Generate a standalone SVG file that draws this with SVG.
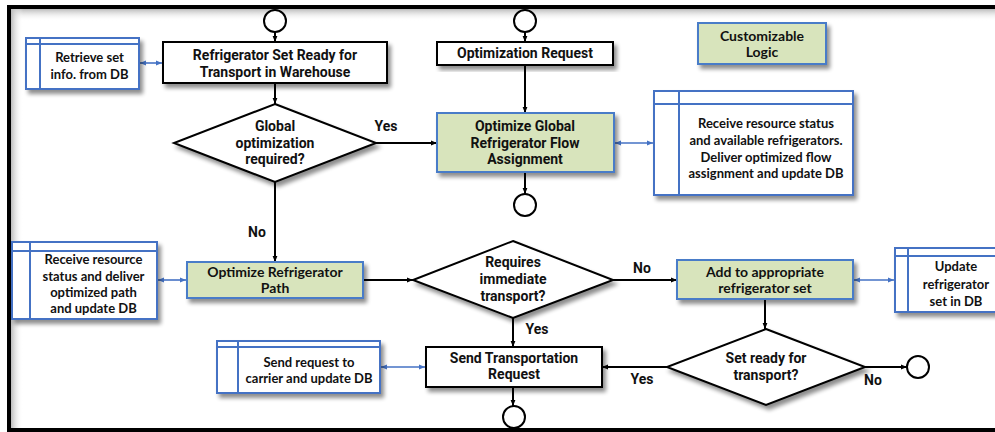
<svg xmlns="http://www.w3.org/2000/svg" width="995" height="432" viewBox="0 0 995 432">
<defs>
<filter id="sh" x="-20%" y="-20%" width="140%" height="150%">
<feGaussianBlur in="SourceAlpha" stdDeviation="2"/>
<feOffset dx="3" dy="4" result="b"/>
<feComponentTransfer><feFuncA type="linear" slope="0.45"/></feComponentTransfer>
<feMerge><feMergeNode/><feMergeNode in="SourceGraphic"/></feMerge>
</filter>
<marker id="ah" viewBox="0 0 10 10" refX="10" refY="5" markerWidth="6" markerHeight="6" orient="auto" markerUnits="userSpaceOnUse"><path d="M0,1 L10,5 L0,9 z" fill="#000"/></marker>
<marker id="bh" viewBox="0 0 10 10" refX="10" refY="5" markerWidth="6" markerHeight="6" orient="auto-start-reverse" markerUnits="userSpaceOnUse"><path d="M0,1 L10,5 L0,9 z" fill="#4472c4"/></marker>
<linearGradient id="gt" x1="0" y1="0" x2="0" y2="1"><stop offset="0" stop-color="#bbb"/><stop offset="1" stop-color="#fff" stop-opacity="0"/></linearGradient>
<linearGradient id="gl" x1="0" y1="0" x2="1" y2="0"><stop offset="0" stop-color="#bbb"/><stop offset="1" stop-color="#fff" stop-opacity="0"/></linearGradient>
</defs>
<style>
.blk{fill:#fff;stroke:#000;stroke-width:2}
.grn{fill:#d8e4bc;stroke:#4a7bc8;stroke-width:2}
.db{fill:#fff;stroke:#4472c4;stroke-width:2}
.dbl{fill:none;stroke:#4472c4;stroke-width:2}
.ci{fill:#fff;stroke:#000;stroke-width:2}
.ln{fill:none;stroke:#000;stroke-width:2;marker-end:url(#ah)}
.bl{fill:none;stroke:#4472c4;stroke-width:1.6;marker-start:url(#bh);marker-end:url(#bh)}
.r{font-family:Roboto,"Liberation Sans",sans-serif;font-weight:700;font-size:14px;fill:#111;text-anchor:middle}
.c{font-family:Lato,"Open Sans",sans-serif;font-weight:700;font-size:14px;fill:#111;text-anchor:middle}
.s{font-family:Lato,"Open Sans",sans-serif;font-weight:700;font-size:13px;fill:#111;text-anchor:middle}
</style>
<rect width="995" height="432" fill="#fff"/>
<g id="frame">
<rect x="11" y="9" width="990" height="12" fill="url(#gt)"/>
<rect x="11" y="9" width="12" height="419" fill="url(#gl)"/>
<path d="M9,430 L9,7 L1000,7" fill="none" stroke="#000" stroke-width="4"/>
<path d="M7,430 L1000,430" fill="none" stroke="#000" stroke-width="4"/>
</g>
<g id="connectors">
<line class="ln" x1="275" y1="32" x2="275" y2="42"/>
<line class="ln" x1="275" y1="83" x2="275" y2="104"/>
<line class="ln" x1="376" y1="143" x2="437" y2="143"/>
<line class="ln" x1="525" y1="32" x2="525" y2="42"/>
<line class="ln" x1="525" y1="65" x2="525" y2="113"/>
<line class="ln" x1="525" y1="172" x2="525" y2="194"/>
<line class="ln" x1="275" y1="182" x2="275" y2="262"/>
<line class="ln" x1="363" y1="280" x2="413" y2="280"/>
<line class="ln" x1="613" y1="280" x2="677" y2="280"/>
<line class="ln" x1="513" y1="318" x2="513" y2="347"/>
<line class="ln" x1="765" y1="299" x2="765" y2="329"/>
<line class="ln" x1="865" y1="367" x2="907" y2="367"/>
<line class="ln" x1="667" y1="367" x2="602" y2="367"/>
<line class="ln" x1="513" y1="387" x2="513" y2="406"/>
<line class="bl" x1="140" y1="63" x2="162" y2="63"/>
<line class="bl" x1="615" y1="143" x2="653" y2="143"/>
<line class="bl" x1="158" y1="280" x2="186" y2="280"/>
<line class="bl" x1="854" y1="280" x2="894" y2="280"/>
<line class="bl" x1="381" y1="367" x2="425" y2="367"/>
</g>
<g id="labels">
<text class="r" x="386" y="131">Yes</text>
<text class="r" x="257" y="237">No</text>
<text class="r" x="642" y="273">No</text>
<text class="r" x="537" y="334">Yes</text>
<text class="r" x="642" y="384">Yes</text>
<text class="r" x="873" y="385">No</text>
</g>
<g id="start1"><circle class="ci" cx="275" cy="21" r="11"/></g>
<g id="start2"><circle class="ci" cx="525" cy="21" r="11"/></g>
<g id="end1"><circle class="ci" cx="525" cy="205" r="11"/></g>
<g id="end2"><circle class="ci" cx="918" cy="367" r="11"/></g>
<g id="end3"><circle class="ci" cx="514" cy="417" r="11"/></g>
<g id="setReady">
<rect class="blk" x="163" y="42" width="224" height="41" filter="url(#sh)"/>
<text class="r" x="275" y="60">Refrigerator Set Ready for</text>
<text class="r" x="275" y="77">Transport in Warehouse</text>
</g>
<g id="dbRetrieve">
<rect class="db" x="26" y="38" width="113" height="51" filter="url(#sh)"/>
<path class="dbl" d="M26,44 H139 M40,38 V89"/>
<text class="s" x="89.5" y="62">Retrieve set</text>
<text class="s" x="89.5" y="79">info. from DB</text>
</g>
<g id="globalDecision">
<polygon class="blk" points="275,104 376,143 275,182 174,143" filter="url(#sh)"/>
<text class="r" x="275" y="131">Global</text>
<text class="r" x="275" y="148">optimization</text>
<text class="r" x="275" y="164">required?</text>
</g>
<g id="optRequest">
<rect class="blk" x="437" y="42" width="176" height="23" filter="url(#sh)"/>
<text class="r" x="525" y="58">Optimization Request</text>
</g>
<g id="optGlobal">
<rect class="grn" x="437" y="113" width="177" height="59" filter="url(#sh)"/>
<text class="r" x="525" y="131">Optimize Global</text>
<text class="r" x="525" y="148">Refrigerator Flow</text>
<text class="r" x="525" y="164">Assignment</text>
</g>
<g id="customLogic">
<rect class="grn" x="698" y="23" width="128" height="41" filter="url(#sh)"/>
<text class="c" x="762" y="41">Customizable</text>
<text class="c" x="762" y="57">Logic</text>
</g>
<g id="dbGlobal">
<rect class="db" x="654" y="91" width="199" height="104" filter="url(#sh)"/>
<path class="dbl" d="M654,104 H853 M679,91 V195"/>
<text class="s" x="766" y="128">Receive resource status</text>
<text class="s" x="766" y="145">and available refrigerators.</text>
<text class="s" x="766" y="162">Deliver optimized flow</text>
<text class="s" x="766" y="178">assignment and update DB</text>
</g>
<g id="optPath">
<rect class="grn" x="187" y="262" width="176" height="36" filter="url(#sh)"/>
<text class="c" x="275" y="277">Optimize Refrigerator</text>
<text class="c" x="275" y="293">Path</text>
</g>
<g id="dbPath">
<rect class="db" x="12" y="242" width="145" height="77" filter="url(#sh)"/>
<path class="dbl" d="M12,251 H157 M30,242 V319"/>
<text class="s" x="93.5" y="264">Receive resource</text>
<text class="s" x="93.5" y="281">status and deliver</text>
<text class="s" x="93.5" y="297">optimized path</text>
<text class="s" x="93.5" y="313">and update DB</text>
</g>
<g id="immediateDecision">
<polygon class="blk" points="513,241 613,280 513,318 413,280" filter="url(#sh)"/>
<text class="r" x="513" y="267">Requires</text>
<text class="r" x="513" y="284">immediate</text>
<text class="r" x="513" y="301">transport?</text>
</g>
<g id="addSet">
<rect class="grn" x="677" y="260" width="176" height="39" filter="url(#sh)"/>
<text class="c" x="765" y="277">Add to appropriate</text>
<text class="c" x="765" y="293">refrigerator set</text>
</g>
<g id="dbUpdate">
<rect class="db" x="895" y="248" width="110" height="64" filter="url(#sh)"/>
<path class="dbl" d="M895,256 H1005 M908,248 V312"/>
<text class="s" x="956" y="271">Update</text>
<text class="s" x="956" y="289">refrigerator</text>
<text class="s" x="956" y="306">set in DB</text>
</g>
<g id="readyDecision">
<polygon class="blk" points="766,329 865,367 766,405 667,367" filter="url(#sh)"/>
<text class="r" x="766" y="363">Set ready for</text>
<text class="r" x="766" y="380">transport?</text>
</g>
<g id="sendRequest">
<rect class="blk" x="426" y="347" width="176" height="40" filter="url(#sh)"/>
<text class="r" x="514" y="363">Send Transportation</text>
<text class="r" x="514" y="379">Request</text>
</g>
<g id="dbCarrier">
<rect class="db" x="217" y="341" width="163" height="52" filter="url(#sh)"/>
<path class="dbl" d="M217,347 H380 M238,341 V393"/>
<text class="s" x="309" y="367">Send request to</text>
<text class="s" x="309" y="383">carrier and update DB</text>
</g>
</svg>
